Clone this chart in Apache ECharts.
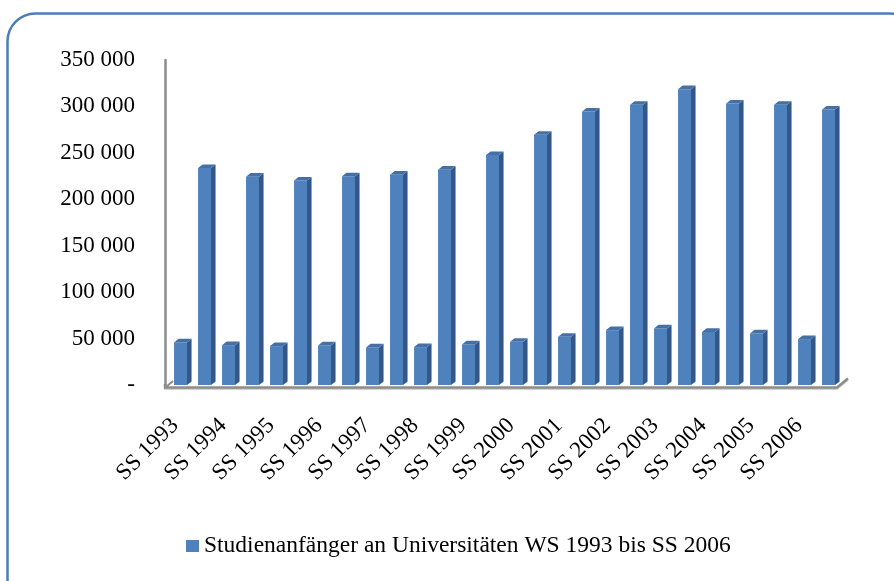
<!DOCTYPE html>
<html>
<head>
<meta charset="utf-8">
<script src="https://cdn.jsdelivr.net/npm/echarts@6/dist/echarts.min.js"></script>
<style>
  html, body { margin: 0; padding: 0; background: #ffffff; }
  #chart { width: 894px; height: 581px; }
</style>
</head>
<body>
<div id="chart"></div>
<script>
// Semesters (summer and winter) in order
const semesters = [
  'SS 1993', 'WS 1993/94', 'SS 1994', 'WS 1994/95', 'SS 1995', 'WS 1995/96',
  'SS 1996', 'WS 1996/97', 'SS 1997', 'WS 1997/98', 'SS 1998', 'WS 1998/99',
  'SS 1999', 'WS 1999/00', 'SS 2000', 'WS 2000/01', 'SS 2001', 'WS 2001/02',
  'SS 2002', 'WS 2002/03', 'SS 2003', 'WS 2003/04', 'SS 2004', 'WS 2004/05',
  'SS 2005', 'WS 2005/06', 'SS 2006', 'WS 2006/07'
];

// First-year students at universities per semester
const freshmen = [
  45800, 233700, 42900, 224400, 41900, 220100,
  42600, 224700, 40500, 226500, 40800, 231900,
  43700, 247700, 46500, 269500, 51900, 294500,
  59100, 301700, 60900, 318600, 57200, 303100,
  55500, 301700, 49400, 296700
];

// Value-axis tick labels
const yTickLabels = ['-', '50 000', '100 000', '150 000', '200 000', '250 000', '300 000', '350 000'];

const seriesName = 'Studienanfänger an Universitäten WS 1993 bis SS 2006';

const FONT = '"Liberation Serif", "DejaVu Serif", serif';
const FRONT = '#4f81bd';
const SIDE = '#34578a';
const TOP = '#4470a6';
const FLOOR = '#8c8c8c';

// Pseudo-3D column: front face, right side face and top face
function renderColumn(params, api) {
  const idx = api.value(0);
  const val = api.value(1);
  const top = api.coord([idx, val]);
  const base = api.coord([idx, 0]);
  const band = api.size([1, 0])[0];
  const w = band * 0.54;
  const x0 = top[0] - band * 0.04;
  const dx = band * 0.19;
  const dy = band * 0.15;
  const x1 = x0 + w;
  return {
    type: 'group',
    children: [
      {
        type: 'rect',
        shape: { x: x0, y: top[1], width: w, height: base[1] - top[1] },
        style: { fill: FRONT }
      },
      {
        type: 'polygon',
        shape: { points: [[x1, top[1]], [x1 + dx, top[1] - dy], [x1 + dx, base[1] - dy], [x1, base[1]]] },
        style: { fill: SIDE }
      },
      {
        type: 'polygon',
        shape: { points: [[x0, top[1]], [x0 + dx, top[1] - dy], [x1 + dx, top[1] - dy], [x1, top[1]]] },
        style: { fill: TOP }
      }
    ]
  };
}

const chart = echarts.init(document.getElementById('chart'), null, { renderer: 'canvas' });

chart.setOption({
  backgroundColor: '#ffffff',
  animation: false,
  grid: {
    left: 163, right: 59, top: 60, bottom: 196,
    containLabel: false, outerBoundsMode: 'none'
  },
  legend: {
    data: [{ name: seriesName, icon: 'rect' }],
    left: 181, top: 529,
    itemWidth: 13, itemHeight: 12,
    textStyle: { fontFamily: FONT, fontSize: 23.5, color: '#000000' }
  },
  xAxis: {
    type: 'category',
    data: semesters,
    axisLine: { show: false },
    axisTick: { show: false },
    axisLabel: {
      interval: 1,
      rotate: 45,
      margin: 37,
      fontFamily: FONT,
      fontSize: 23,
      color: '#000000'
    }
  },
  yAxis: {
    type: 'value',
    min: 0, max: 350000, interval: 50000,
    offset: -2,
    splitLine: { show: false },
    axisTick: { show: false },
    axisLine: { show: true, lineStyle: { color: FLOOR, width: 2.5 } },
    axisLabel: {
      margin: 30,
      fontFamily: FONT,
      fontSize: 23,
      color: '#000000',
      formatter: (v) => yTickLabels[Math.round(v / 50000)]
    }
  },
  series: [{
    name: seriesName,
    type: 'custom',
    renderItem: renderColumn,
    itemStyle: { color: FRONT },
    encode: { x: 0, y: 1 },
    data: freshmen.map((v, i) => [i, v])
  }],
  graphic: [
    {
      type: 'rect',
      shape: { x: 7.5, y: 13.5, width: 910, height: 600, r: 28 },
      style: { fill: 'none', stroke: '#4a7ebb', lineWidth: 2.5 },
      silent: true
    },
    {
      type: 'polyline',
      shape: { points: [[165, 385], [165, 389], [837, 389], [848, 380]] },
      style: { stroke: '#cfcfcf', lineWidth: 2, fill: 'none' },
      silent: true,
      z: 9
    },
    {
      type: 'polyline',
      shape: { points: [[165, 384], [165, 387.5], [837, 387.5], [848, 378.5]] },
      style: { stroke: FLOOR, lineWidth: 2.5, fill: 'none' },
      silent: true,
      z: 10
    },
    {
      type: 'line',
      shape: { x1: 166, y1: 387, x2: 173, y2: 381 },
      style: { stroke: FLOOR, lineWidth: 2 },
      silent: true,
      z: 10
    }
  ]
});
</script>
</body>
</html>
